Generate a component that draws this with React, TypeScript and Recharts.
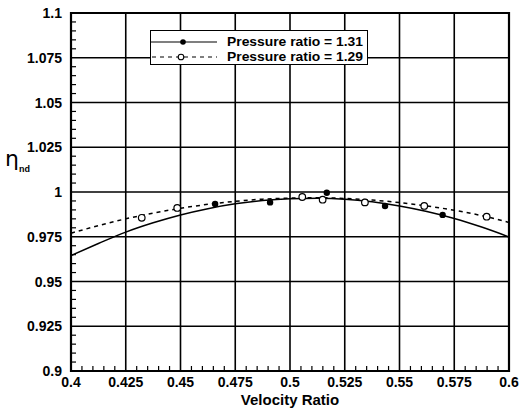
import React from "react";
import {
  ComposedChart,
  Line,
  Scatter,
  XAxis,
  YAxis,
  CartesianGrid,
  ReferenceArea,
} from "recharts";

// Axis ticks (major) and their labels
const MAJOR_X = [0.4, 0.425, 0.45, 0.475, 0.5, 0.525, 0.55, 0.575, 0.6];
const X_LABELS = ["0.4", "0.425", "0.45", "0.475", "0.5", "0.525", "0.55", "0.575", "0.6"];
const MAJOR_Y = [0.9, 0.925, 0.95, 0.975, 1, 1.025, 1.05, 1.075, 1.1];
const Y_LABELS = ["0.9", "0.925", "0.95", "0.975", "1", "1.025", "1.05", "1.075", "1.1"];

// Fitted curves
const CURVE_X = [
  0.4, 0.4125, 0.425, 0.4375, 0.45, 0.4625, 0.475, 0.4875, 0.5, 0.5125, 0.525,
  0.5375, 0.55, 0.5625, 0.575, 0.5875, 0.6,
];
const CURVE_131 = [
  0.9645, 0.9712, 0.9776, 0.9828, 0.9872, 0.9907, 0.9934, 0.9952, 0.9962,
  0.9965, 0.996, 0.9945, 0.9922, 0.9891, 0.9852, 0.9804, 0.9749,
];
const CURVE_129 = [
  0.977, 0.9812, 0.985, 0.9882, 0.9909, 0.9931, 0.9948, 0.996, 0.9966, 0.9968,
  0.9964, 0.9955, 0.9941, 0.9922, 0.9898, 0.9868, 0.983,
];

// Measured points
const PTS_131_X = [0.4658, 0.4909, 0.5168, 0.5434, 0.5697];
const PTS_131_Y = [0.9933, 0.9942, 0.9996, 0.9922, 0.9872];
const PTS_129_X = [0.4323, 0.4485, 0.5056, 0.5149, 0.5342, 0.5613, 0.5898];
const PTS_129_Y = [0.9856, 0.9911, 0.9972, 0.9957, 0.9942, 0.9922, 0.9862];

const FONT = "'Liberation Sans', Arial, Helvetica, sans-serif";

const curve131 = CURVE_X.map((x, i) => ({ x, y: CURVE_131[i] }));
const curve129 = CURVE_X.map((x, i) => ({ x, y: CURVE_129[i] }));
const pts131 = PTS_131_X.map((x, i) => ({ x, y: PTS_131_Y[i] }));
const pts129 = PTS_129_X.map((x, i) => ({ x, y: PTS_129_Y[i] }));

// major ticks plus 4 minor ticks in between
const withMinors = (major: number[]) => {
  const step = major[1] - major[0];
  return major.flatMap((v, i) =>
    i === major.length - 1 ? [v] : [0, 1, 2, 3, 4].map((k) => v + (k * step) / 5)
  );
};

const findMajor = (major: number[], v: number) =>
  major.findIndex((m) => Math.abs(m - v) < 1e-6);

const XTick = (props: any) => {
  const { x, y, payload } = props;
  const idx = findMajor(MAJOR_X, payload.value);
  return (
    <g>
      {idx < 0 && <line x1={x} x2={x} y1={y} y2={y - 5} stroke="#000" strokeWidth={1.2} />}
      {idx >= 0 && (
        <text
          x={x}
          y={y + 16}
          textAnchor="middle"
          fontFamily={FONT}
          fontWeight="bold"
          fontSize={14}
          fill="#000"
        >
          {X_LABELS[idx]}
        </text>
      )}
    </g>
  );
};

const YTick = (props: any) => {
  const { x, y, payload } = props;
  const idx = findMajor(MAJOR_Y, payload.value);
  return (
    <g>
      {idx < 0 && <line x1={x} x2={x + 5} y1={y} y2={y} stroke="#000" strokeWidth={1.2} />}
      {idx >= 0 && (
        <text
          x={x - 9}
          y={y + 5}
          textAnchor="end"
          fontFamily={FONT}
          fontWeight="bold"
          fontSize={14}
          fill="#000"
        >
          {Y_LABELS[idx]}
        </text>
      )}
    </g>
  );
};

const FilledDot = (p: any) => <circle cx={p.cx} cy={p.cy} r={3.2} fill="#000" />;
const OpenDot = (p: any) => (
  <circle cx={p.cx} cy={p.cy} r={3.3} fill="#fff" stroke="#000" strokeWidth={1.2} />
);

export default function App() {
  return (
    <div
      style={{
        position: "absolute",
        left: 0,
        top: 0,
        width: 521,
        height: 418,
        background: "#fff",
        fontFamily: FONT,
      }}
    >
      <ComposedChart
        width={521}
        height={418}
        margin={{ top: 13, right: 12, bottom: 0, left: 0 }}
      >
        <CartesianGrid
          verticalValues={MAJOR_X}
          horizontalValues={MAJOR_Y}
          stroke="#000"
          strokeWidth={1.6}
        />
        <XAxis
          type="number"
          dataKey="x"
          domain={[0.4, 0.6]}
          ticks={withMinors(MAJOR_X)}
          interval={0}
          height={47}
          tickSize={0}
          tickMargin={0}
          axisLine={false}
          tickLine={false}
          tick={<XTick />}
          allowDataOverflow
        />
        <YAxis
          type="number"
          dataKey="y"
          domain={[0.9, 1.1]}
          ticks={withMinors(MAJOR_Y)}
          interval={0}
          width={71}
          tickSize={0}
          tickMargin={0}
          axisLine={false}
          tickLine={false}
          tick={<YTick />}
          allowDataOverflow
        />
        <Line
          data={curve131}
          dataKey="y"
          type="monotone"
          stroke="#000"
          strokeWidth={1.5}
          dot={false}
          isAnimationActive={false}
        />
        <Line
          data={curve129}
          dataKey="y"
          type="monotone"
          stroke="#000"
          strokeWidth={1.5}
          strokeDasharray="4 4"
          dot={false}
          isAnimationActive={false}
        />
        <Scatter data={pts131} dataKey="y" shape={<FilledDot />} isAnimationActive={false} />
        <Scatter data={pts129} dataKey="y" shape={<OpenDot />} isAnimationActive={false} />
        <ReferenceArea
          x1={0.4}
          x2={0.6}
          y1={0.9}
          y2={1.1}
          fill="none"
          fillOpacity={0}
          stroke="#000"
          strokeWidth={2.2}
          ifOverflow="visible"
        />
      </ComposedChart>

      {/* legend */}
      <div
        style={{
          position: "absolute",
          left: 150,
          top: 30,
          width: 218,
          height: 35,
          border: "1.5px solid #000",
          background: "#fff",
          boxSizing: "border-box",
        }}
      >
        <svg width={215} height={32} style={{ position: "absolute", left: 0, top: 0 }}>
          <line x1={0} x2={66} y1={11} y2={11} stroke="#000" strokeWidth={1.2} />
          <circle cx={32} cy={11} r={2.8} fill="#000" />
          <text
            x={76}
            y={15}
            fontFamily={FONT}
            fontWeight="bold"
            fontSize={13}
            textLength={136}
            lengthAdjust="spacingAndGlyphs"
          >
            Pressure ratio = 1.31
          </text>
          <line x1={1} x2={66} y1={26} y2={26} stroke="#000" strokeWidth={1.2} strokeDasharray="4 4" />
          <circle cx={30} cy={26} r={2.8} fill="#fff" stroke="#000" strokeWidth={1.1} />
          <text
            x={76}
            y={30}
            fontFamily={FONT}
            fontWeight="bold"
            fontSize={13}
            textLength={136}
            lengthAdjust="spacingAndGlyphs"
          >
            Pressure ratio = 1.29
          </text>
        </svg>
      </div>

      {/* y axis title */}
      <div
        style={{
          position: "absolute",
          left: 5,
          top: 148,
          fontSize: 22,
          lineHeight: "22px",
          fontFamily: "'DejaVu Sans', sans-serif",
          color: "#000",
          whiteSpace: "nowrap",
        }}
      >
        η
        <span style={{ fontSize: 9, fontWeight: "bold", fontFamily: FONT, position: "relative", top: 6 }}>
          nd
        </span>
      </div>

      {/* x axis title */}
      <div
        style={{
          position: "absolute",
          left: 71,
          width: 438,
          top: 391,
          lineHeight: "17px",
          textAlign: "center",
          fontSize: 15,
          fontWeight: "bold",
          color: "#000",
        }}
      >
        Velocity Ratio
      </div>
    </div>
  );
}
